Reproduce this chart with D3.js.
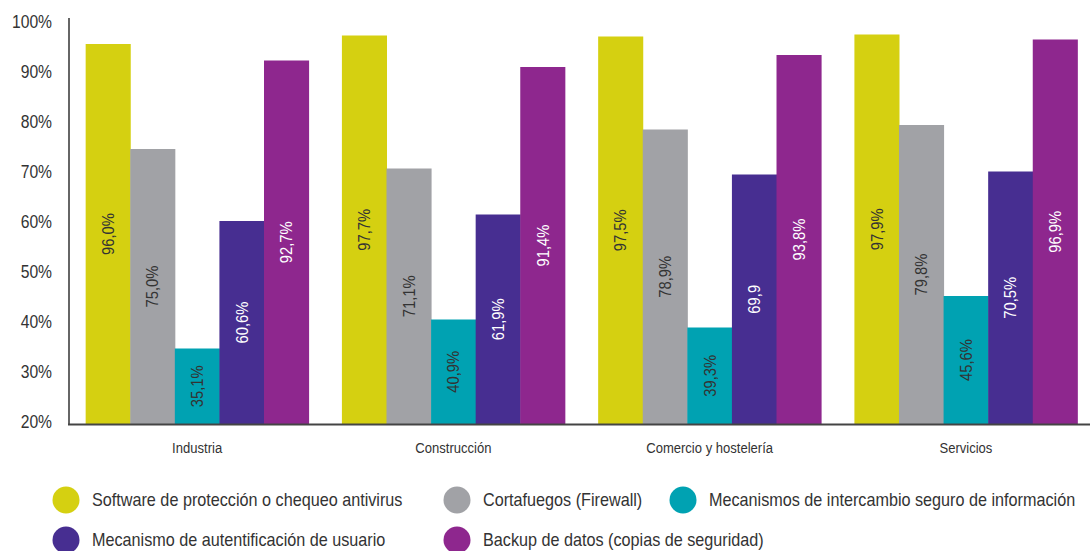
<!DOCTYPE html>
<html><head><meta charset="utf-8">
<script src="https://cdn.jsdelivr.net/npm/d3@7"></script>
<style>body{margin:0;background:#fff}</style>
</head><body>
<svg id="c" width="1090" height="551"></svg>
<script>
const categories = ["Industria", "Construcción", "Comercio y hostelería", "Servicios"];
const seriesNames = [
  "Software de protección o chequeo antivirus",
  "Cortafuegos (Firewall)",
  "Mecanismos de intercambio seguro de información",
  "Mecanismo de autentificación de usuario",
  "Backup de datos (copias de seguridad)"
];
const antivirus = [96.0, 97.7, 97.5, 97.9];
const firewall = [75.0, 71.1, 78.9, 79.8];
const intercambio = [35.1, 40.9, 39.3, 45.6];
const autentificacion = [60.6, 61.9, 69.9, 70.5];
const backup = [92.7, 91.4, 93.8, 96.9];
const valueLabels = [
  ["96,0%", "97,7%", "97,5%", "97,9%"],
  ["75,0%", "71,1%", "78,9%", "79,8%"],
  ["35,1%", "40,9%", "39,3%", "45,6%"],
  ["60,6%", "61,9%", "69,9", "70,5%"],
  ["92,7%", "91,4%", "93,8%", "96,9%"]
];
const yTicks = [20, 30, 40, 50, 60, 70, 80, 90, 100];

const seriesValues = [antivirus, firewall, intercambio, autentificacion, backup];
const colors = ["#d5d011", "#a1a2a6", "#00a2b2", "#472e91", "#8e278e"];
const labelColors = ["#333", "#333", "#333", "#fff", "#fff"];
const font = "'Liberation Sans',Arial,sans-serif";
const cond = 0.87;
const legendCond = 0.9;

const svg = d3.select("#c");
const y = d3.scaleLinear().domain([20, 100]).range([424, 24]);
const x0 = d3.scaleBand().domain(categories).range([69, 1094]).paddingInner(0.13).paddingOuter(0.065);
const x1 = d3.scaleBand().domain(d3.range(seriesNames.length)).range([0, x0.bandwidth()]);

const data = [];
categories.forEach((c, ci) => seriesValues.forEach((s, si) => data.push({c, ci, si, v: s[ci]})));

svg.append("g").selectAll("rect").data(data).join("rect")
  .attr("x", d => x0(d.c) + x1(d.si))
  .attr("width", x1.bandwidth() + 0.5)
  .attr("y", d => y(d.v))
  .attr("height", d => y(20) - y(d.v))
  .attr("fill", d => colors[d.si]);

svg.append("g").selectAll("text").data(data).join("text")
  .attr("transform", d => `translate(${x0(d.c) + x1(d.si) + x1.bandwidth()/2},${(y(d.v) + y(20))/2}) rotate(-90) scale(${cond},1)`)
  .attr("text-anchor", "middle")
  .attr("dy", "0.35em")
  .attr("font-family", font)
  .attr("font-size", 17)
  .attr("fill", d => labelColors[d.si])
  .text(d => valueLabels[d.si][d.ci]);

// y axis
const yAxis = svg.append("g").attr("transform", "translate(69,0)")
  .call(d3.axisLeft(y).tickValues(yTicks).tickSize(0).tickPadding(17 / cond).tickFormat(d => d + "%"));
yAxis.select(".domain").remove();
yAxis.selectAll("text").attr("font-family", font).attr("font-size", 18).attr("fill", "#333")
  .attr("dy", "0.22em").attr("transform", `scale(${cond},1)`);
svg.append("line").attr("x1", 69).attr("x2", 69).attr("y1", 18).attr("y2", y(20)).attr("stroke", "#333").attr("stroke-width", 1.5);

// x axis
const xAxis = svg.append("g").attr("transform", `translate(0,${y(20)})`)
  .call(d3.axisBottom(x0).tickSize(0).tickPadding(18));
xAxis.select(".domain").remove();
xAxis.selectAll("text").attr("font-family", font).attr("font-size", 15).attr("fill", "#333")
  .attr("transform", `scale(${cond},1)`);
svg.append("line").attr("x1", 68).attr("x2", 1090).attr("y1", y(20) + 0.5).attr("y2", y(20) + 0.5).attr("stroke", "#444").attr("stroke-width", 2);

// legend
const legendPos = [[66, 500], [457, 500], [683, 500], [66, 540], [457, 540]];
const lg = svg.append("g").selectAll("g").data(seriesNames).join("g")
  .attr("transform", (d, i) => `translate(${legendPos[i][0]},${legendPos[i][1]})`);
lg.append("circle").attr("r", 13.5).attr("fill", (d, i) => colors[i]);
lg.append("text").attr("transform", `translate(26,0) scale(${legendCond},1)`).attr("dy", "0.35em")
  .attr("font-family", font).attr("font-size", 18).attr("fill", "#333").text(d => d);
</script>
</body></html>
